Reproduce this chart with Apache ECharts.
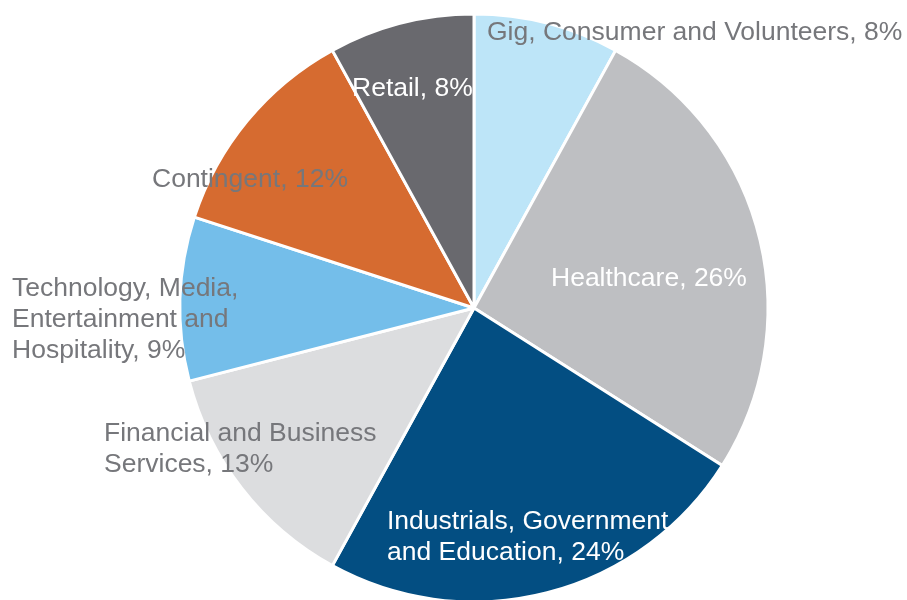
<!DOCTYPE html>
<html>
<head>
<meta charset="utf-8">
<script src="https://cdn.jsdelivr.net/npm/echarts@6/dist/echarts.min.js"></script>
<style>html,body{margin:0;padding:0;background:#fff;}#c{width:907px;height:600px;}</style>
</head>
<body>
<div id="c"></div>
<script>
const categories = [
  'Gig, Consumer and Volunteers',
  'Healthcare',
  'Industrials, Government\nand Education',
  'Financial and Business\nServices',
  'Technology, Media,\nEntertainment and\nHospitality',
  'Contingent',
  'Retail'
];
const values = [8, 26, 24, 13, 9, 12, 8];
const colors = ['#BDE5F8', '#BEBFC2', '#034E82', '#DCDDDF', '#74BEEA', '#D66B30', '#69696E'];
const labelColors = ['#76777B', '#FFFFFF', '#FFFFFF', '#76777B', '#76777B', '#76777B', '#FFFFFF'];
// label anchor (left edge, vertical middle of text block)
const labelPos = [[487, 33], [551, 279], [387, 537], [104, 449], [12, 320], [152, 180], [352, 89]];

const chart = echarts.init(document.getElementById('c'), null, {renderer: 'canvas'});
chart.setOption({
  animation: false,
  series: [{
    type: 'pie',
    center: [474, 308],
    radius: 294,
    startAngle: 90,
    clockwise: true,
    itemStyle: {borderColor: '#fff', borderWidth: 3},
    label: {
      show: true,
      position: 'inside',
      fontFamily: '"Liberation Sans", Arial, sans-serif',
      fontSize: 26.5,
      lineHeight: 31,
      align: 'left',
      formatter: p => p.name + ', ' + p.value + '%'
    },
    labelLine: {show: false},
    labelLayout: function (params) {
      const p = labelPos[params.dataIndex];
      return {x: p[0], y: p[1], align: 'left', verticalAlign: 'middle'};
    },
    emphasis: {disabled: true},
    data: categories.map((n, i) => ({
      name: n, value: values[i],
      itemStyle: {color: colors[i]},
      label: {color: labelColors[i]}
    }))
  }]
});
</script>
</body>
</html>
